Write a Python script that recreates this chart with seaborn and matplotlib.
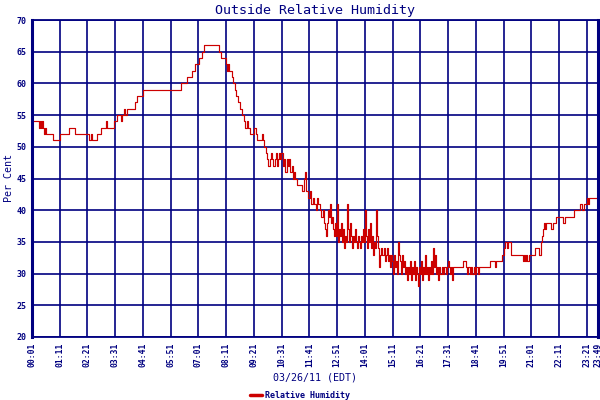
import pandas as pd
import matplotlib
matplotlib.use("Agg")
import matplotlib.pyplot as plt
import seaborn as sns

NAVY = "#000080"
RED = "#cc0000"

# minutes after midnight where the reading changes, and the reading (per cent)
minutes = [
    1, 18, 21, 23, 26, 28, 31, 34, 36, 54, 72, 94, 110, 146, 149, 152, 165, 175,
    187, 190, 208, 215, 225, 228, 233, 235, 240, 261, 265, 282, 377, 392, 404,
    411, 422, 430, 434, 473, 479, 490, 493, 496, 499, 505, 507, 513, 516, 521,
    526, 531, 536, 539, 544, 547, 551, 562, 566, 569, 581, 584, 586, 591, 594,
    596,
    602, 604, 607, 609, 614, 617, 619, 622, 624, 627, 629, 634, 637, 639, 644,
    647, 649, 652, 657, 660, 662, 665, 670, 682, 687, 690, 692, 697, 702, 705,
    710, 712, 717, 720, 723, 728, 730, 735, 738, 740, 743, 745, 748, 750, 753,
    755, 758, 760, 763, 765, 768, 770, 773, 775, 778, 780, 783, 785, 788, 791,
    793,
    796, 798, 801, 803, 806, 808, 811, 813, 816, 818, 821, 823, 826, 828, 831,
    833, 836, 838, 841, 843, 846, 848, 851, 853, 856, 858, 861, 864, 866, 869,
    871, 874, 876, 879, 881, 884, 889, 891, 894, 896, 899, 901, 904, 906, 909,
    912, 914, 917, 919, 922, 924, 927, 929, 932, 934, 937, 939, 942, 944, 947,
    949, 952, 955, 957, 960, 962, 965, 967, 970, 972, 975, 977, 980, 982, 985,
    987, 990, 992, 995, 997, 1000, 1002, 1005, 1008, 1010, 1013, 1015, 1018,
    1020, 1023, 1025, 1028, 1030, 1035, 1038, 1040, 1045, 1048, 1050, 1053,
    1056, 1058, 1061, 1063,
    1088, 1096, 1098, 1101, 1106, 1108, 1111, 1116, 1119, 1121, 1126, 1129,
    1157, 1169, 1171, 1187, 1192, 1194, 1199, 1202, 1209, 1240, 1242, 1245,
    1247, 1250, 1255, 1270, 1280, 1285, 1287, 1290, 1292, 1295, 1297, 1310,
    1315, 1323, 1340, 1345, 1368, 1384, 1389, 1394, 1402, 1404, 1407, 1429,
]
rh = [
    54, 53, 54, 53, 54, 53, 52, 53, 52, 51, 52, 53, 52, 51, 52, 51, 52, 53,
    54, 53, 54, 55, 54, 55, 56, 55, 56, 57, 58, 59, 60, 61, 62,
    63, 64, 65, 66, 65, 64, 63, 62, 63, 62, 61, 60, 59, 58, 57,
    56, 55, 54, 53, 54, 53, 52, 53, 52, 51, 52, 51, 50, 49, 48,
    47,
    48, 49, 48, 47, 48, 49, 47, 48, 49, 48, 49, 47, 48, 46, 48,
    47, 48, 46, 47, 45, 46, 45, 44, 43, 45, 46, 43, 42, 43, 41,
    42, 41, 40, 42, 41, 40, 39, 40, 38, 37, 36, 38, 40, 39, 41,
    38, 39, 37, 36, 38, 36, 41, 35, 37, 36, 38, 35, 37, 34, 36,
    35,
    41, 37, 35, 38, 36, 34, 36, 35, 37, 35, 34, 36, 35, 34, 36,
    35, 37, 35, 40, 36, 34, 37, 35, 38, 34, 36, 33, 35, 34, 40,
    36, 34, 31, 33, 34, 33, 34, 32, 33, 34, 32, 33, 31, 33, 32,
    30, 33, 31, 32, 30, 35, 33, 32, 30, 33, 31, 32, 30, 31, 29,
    31, 30, 32, 29, 31, 30, 32, 29, 31, 30, 28, 31, 30, 32, 29,
    31, 30, 33, 30, 31, 29, 31, 30, 32, 30, 34, 31, 33,
    30, 31, 29, 31, 30, 31, 30, 31, 30, 31, 32, 31,
    30, 31, 29, 31,
    32, 31, 30, 31, 30, 31, 30, 31, 30, 31, 30, 31,
    32, 31, 32, 33, 34, 35, 34, 35, 33, 32, 33, 32,
    33, 32, 33, 34, 33, 35, 36, 37, 38, 37, 38, 37,
    38, 39, 38, 39, 40, 41, 40, 41, 42, 41, 42, 42,
]

tick_minutes = [1, 71, 141, 211, 281, 351, 421, 491, 561, 631, 701, 771,
                841, 911, 981, 1051, 1121, 1191, 1261, 1331, 1401, 1429]
tick_labels = [f"{m // 60:02d}:{m % 60:02d}" for m in tick_minutes]
y_ticks = [20, 25, 30, 35, 40, 45, 50, 55, 60, 65, 70]

df = pd.DataFrame({"minute": minutes, "rh": rh})

sns.set_style("white")
plt.rcParams["font.family"] = ["DejaVu Sans Mono", "DejaVu Sans"]

fig = plt.figure(figsize=(6, 4), dpi=100)
ax = fig.add_axes([32 / 600, 1 - 337 / 400, 566 / 600, 317 / 400])

sns.lineplot(data=df, x="minute", y="rh", estimator=None, sort=False,
             drawstyle="steps-post", color=RED, linewidth=0.85, ax=ax,
             label="Relative Humidity", legend=False)

ax.set_xlim(1, 1429)
ax.set_ylim(20, 70)
ax.set_xticks(tick_minutes)
ax.set_xticklabels(tick_labels, rotation=90, fontsize=5.8, fontweight="bold",
                   color=NAVY)
ax.set_yticks(y_ticks)
ax.set_yticklabels([str(v) for v in y_ticks], fontsize=6, fontweight="bold",
                   color=NAVY)
ax.tick_params(length=0, pad=4)
ax.grid(True, color=NAVY, linewidth=1.2)
ax.set_axisbelow(True)
for side, sp in ax.spines.items():
    sp.set_color(NAVY)
    sp.set_linewidth(1.3)
    sp.set_visible(True)
ax.spines["left"].set_linewidth(2.2)
ax.spines["right"].set_linewidth(2.2)

ax.set_title("Outside Relative Humidity", fontsize=9.6, color=NAVY, pad=4)
ax.set_xlabel("03/26/11 (EDT)", fontsize=7.2, color=NAVY, labelpad=4)
ax.set_ylabel("Per Cent", fontsize=7.2, color=NAVY, labelpad=2)

handles, labels = ax.get_legend_handles_labels()
leg = fig.legend(handles, labels, loc="center", bbox_to_anchor=(0.5, 1 - 395 / 400),
                 frameon=False, handlelength=1.5, handletextpad=0.4,
                 prop={"size": 6, "weight": "bold"})
for t in leg.get_texts():
    t.set_color(NAVY)
for ln in leg.get_lines():
    ln.set_linewidth(2.5)

fig.savefig("out.png", dpi=100)
